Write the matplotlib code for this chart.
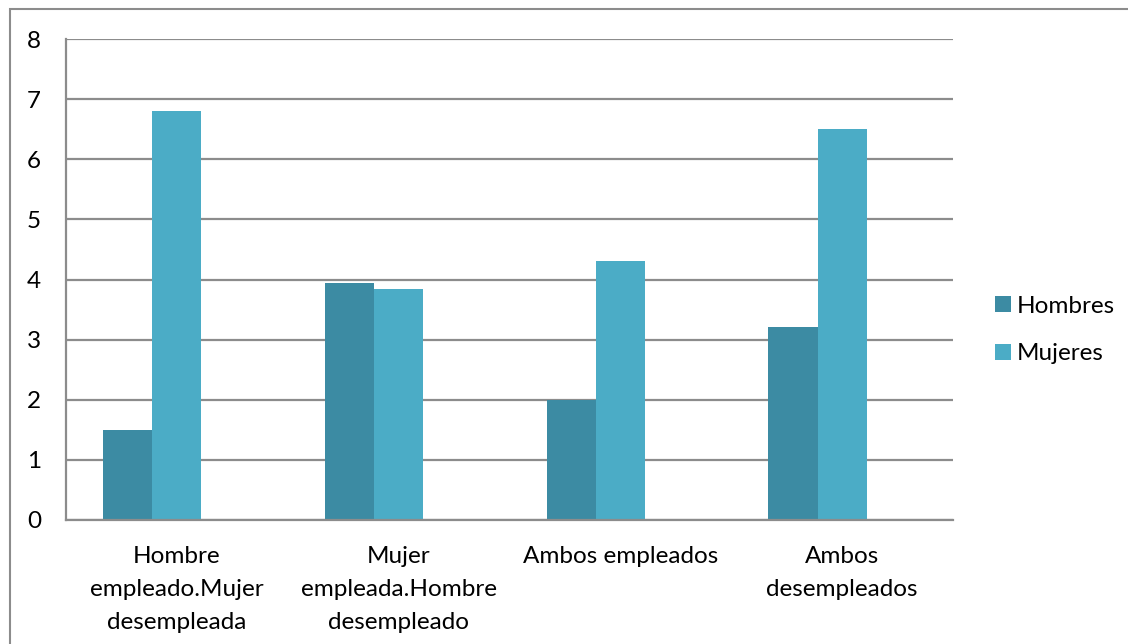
import matplotlib.pyplot as plt
from matplotlib.patches import Rectangle
import numpy as np

categories = ['Hombre\nempleado.Mujer\ndesempleada',
              'Mujer\nempleada.Hombre\ndesempleado',
              'Ambos empleados',
              'Ambos\ndesempleados']
hombres = [1.5, 3.94, 2.0, 3.21]
mujeres = [6.8, 3.84, 4.31, 6.5]

plt.rcParams['font.family'] = ['Lato', 'DejaVu Sans']

W, H = 1128, 644
fig = plt.figure(figsize=(W / 100, H / 100), dpi=100)
ax = fig.add_axes([66 / W, (H - 520) / H, (953 - 66) / W, (520 - 39) / H])

x = np.arange(len(categories))
w = 0.222
ax.bar(x - w, hombres, width=w, color='#3C8BA3', label='Hombres')
ax.bar(x, mujeres, width=w, color='#4BACC6', label='Mujeres')

ax.set_xlim(-0.5, 3.5)
ax.set_ylim(0, 8)
ax.set_yticks(range(0, 9))
ax.yaxis.grid(True, color='#8c8c8c', linewidth=1.6)
ax.set_axisbelow(True)
for s in ['top', 'right']:
    ax.spines[s].set_visible(False)
for s in ['left', 'bottom']:
    ax.spines[s].set_color('#8c8c8c')
    ax.spines[s].set_linewidth(1.6)

ax.set_xticks(x)
ax.set_xticklabels(categories, fontsize=17.5, linespacing=1.68)
ax.tick_params(axis='both', length=0, labelsize=17.5)
ax.tick_params(axis='x', pad=19)
ax.tick_params(axis='y', pad=18)

ax.legend(loc='center left', bbox_to_anchor=(995 / W, (H - 330) / H),
          bbox_transform=fig.transFigure, frameon=False, fontsize=17.5,
          handlelength=0.66, handleheight=0.66, handletextpad=0.25,
          labelspacing=1.1, borderaxespad=0, borderpad=0)

fig.add_artist(Rectangle((10 / W, -0.05), 1.2, (H - 9) / H + 0.05,
                         transform=fig.transFigure, fill=False,
                         edgecolor='#8c8c8c', linewidth=1.5))

fig.savefig('out.png', dpi=100)
